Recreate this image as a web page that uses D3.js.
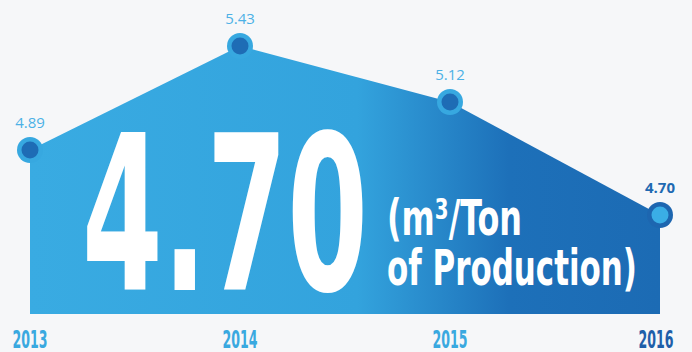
<!DOCTYPE html>
<html>
<head>
<meta charset="utf-8">
<script src="https://cdn.jsdelivr.net/npm/d3@7"></script>
<style>
  html, body { margin: 0; padding: 0; background: #f6f7f9; }
  svg { display: block; }
</style>
</head>
<body>
<div id="chart"></div>
<script>
// data
const years = ['2013', '2014', '2015', '2016'];
const values = [4.89, 5.43, 5.12, 4.70];
const valueLabels = ['4.89', '5.43', '5.12', '4.70'];
const headline = '4.70';
const unitLines = ['(m³/Ton', 'of Production)'];

const width = 692, height = 352;
const baseY = 314;

const svg = d3.select('#chart').append('svg')
  .attr('width', width)
  .attr('height', height);

// x: years spread evenly
const x = d3.scalePoint().domain(years).range([30, 660]);
// y: the infographic isn't to scale, so a piecewise scale through the values
const y = d3.scaleLinear()
  .domain([4.70, 4.89, 5.12, 5.43])
  .range([215, 150, 102, 46]);

const defs = svg.append('defs');
const grad = defs.append('linearGradient')
  .attr('id', 'areaGrad')
  .attr('gradientUnits', 'userSpaceOnUse')
  .attr('x1', 30).attr('x2', 660).attr('y1', 0).attr('y2', 0);
grad.append('stop').attr('offset', '0%').attr('stop-color', '#39abe2');
grad.append('stop').attr('offset', '52%').attr('stop-color', '#33a3dd');
grad.append('stop').attr('offset', '76%').attr('stop-color', '#1d70b9');
grad.append('stop').attr('offset', '100%').attr('stop-color', '#1c6bb4');

const pts = years.map((yr, i) => ({ yr, v: values[i], label: valueLabels[i] }));

const area = d3.area()
  .x(d => x(d.yr))
  .y0(baseY)
  .y1(d => y(d.v));

svg.append('path')
  .datum(pts)
  .attr('d', area)
  .attr('fill', 'url(#areaGrad)');

// big headline number
const condensed = "'Liberation Sans Narrow', 'DejaVu Sans Condensed', sans-serif";
svg.append('text')
  .attr('x', 82)
  .attr('y', 290)
  .attr('font-family', condensed)
  .attr('font-weight', 'bold')
  .attr('font-size', 216)
  .attr('textLength', 286)
  .attr('lengthAdjust', 'spacingAndGlyphs')
  .attr('fill', '#fff')
  .text(headline);

svg.selectAll('.unit')
  .data(unitLines)
  .enter().append('text')
  .attr('class', 'unit')
  .attr('x', 387)
  .attr('y', (d, i) => 235 + i * 50)
  .attr('font-family', condensed)
  .attr('font-weight', 'bold')
  .attr('font-size', 50)
  .attr('textLength', (d, i) => i === 0 ? 135 : 250)
  .attr('lengthAdjust', 'spacingAndGlyphs')
  .attr('fill', '#fff')
  .text(d => d);

// markers
const last = years.length - 1;
const g = svg.selectAll('.pt')
  .data(pts)
  .enter().append('g')
  .attr('class', 'pt')
  .attr('transform', d => `translate(${x(d.yr)},${y(d.v)})`);

g.append('circle')
  .attr('r', 13)
  .attr('fill', (d, i) => i === last ? '#1d66b0' : '#37a8e0');
g.append('circle')
  .attr('r', 8.5)
  .attr('fill', (d, i) => i === last ? '#3aaee6' : '#1e6cb5');

g.append('text')
  .attr('y', -22)
  .attr('text-anchor', 'middle')
  .attr('font-family', "'Open Sans', sans-serif")
  .attr('font-size', 15)
  .attr('font-weight', (d, i) => i === last ? 'bold' : 'normal')
  .attr('fill', (d, i) => i === last ? '#1e69b2' : '#4cb1e6')
  .text(d => d.label);

// year labels
svg.selectAll('.yr')
  .data(years)
  .enter().append('text')
  .attr('class', 'yr')
  .attr('x', (d, i) => x(d) - (i === last ? 4 : 0))
  .attr('y', 347.5)
  .attr('text-anchor', 'middle')
  .attr('font-family', condensed)
  .attr('font-weight', 'bold')
  .attr('font-size', 24)
  .attr('textLength', 35)
  .attr('lengthAdjust', 'spacingAndGlyphs')
  .attr('fill', (d, i) => i === last ? '#1f5fa9' : '#3aa9e0')
  .text(d => d);
</script>
</body>
</html>
